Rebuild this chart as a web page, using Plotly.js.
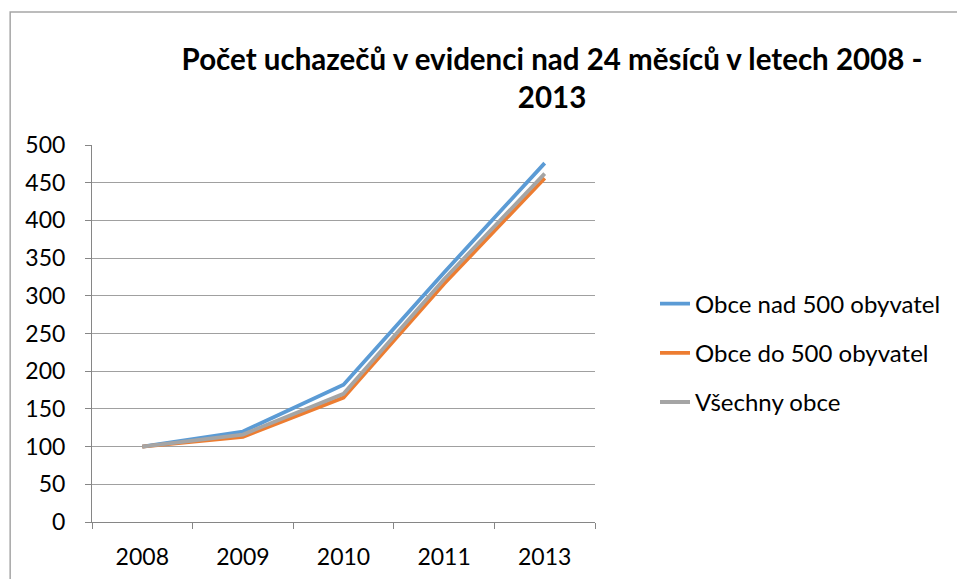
<!DOCTYPE html>
<html>
<head>
<meta charset="utf-8">
<script src="https://cdn.plot.ly/plotly-3.0.1.min.js"></script>
<style>
html,body{margin:0;padding:0;background:#fff;}
#chart{width:957px;height:579px;}
</style>
</head>
<body>
<div id="chart"></div>
<script>
var years = ["2008", "2009", "2010", "2011", "2013"];
var obceNad500 = [100, 120, 182, 331, 476];
var obceDo500 = [100, 113, 165, 316, 456];
var vsechnyObce = [100, 116, 170, 322, 462];
var seriesNames = ["Obce nad 500 obyvatel", "Obce do 500 obyvatel", "Všechny obce"];
var chartTitle = "Počet uchazečů v evidenci nad 24 měsíců v letech 2008 -<br>2013";

var colors = ["#5B9BD5", "#ED7D31", "#A5A5A5"];
var values = [obceNad500, obceDo500, vsechnyObce];
var FONT = "Lato, 'Open Sans', sans-serif";

var traces = values.map(function (v, i) {
  return {
    type: "scatter",
    mode: "lines",
    x: years,
    y: v,
    name: seriesNames[i],
    legendgroup: "g" + i,
    line: {color: colors[i], width: 3.8}
  };
});

var L = 92, R = 596, T = 145, B = 522, W = 957, H = 579;
var pw = R - L, ph = B - T;
function px(x) { return (x - L) / pw; }
function py(y) { return (B - y) / ph; }

var layout = {
  width: W, height: H,
  margin: {l: L, r: W - R, t: T, b: H - B, pad: 0},
  paper_bgcolor: "#fff",
  plot_bgcolor: "#fff",
  font: {family: FONT, size: 23, color: "#000"},
  title: {
    text: "<b>" + chartTitle + "</b>",
    font: {family: FONT, size: 29.5, color: "#000"},
    x: px(553), xref: "paper", xanchor: "center",
    y: 1 - 70 / H, yanchor: "top"
  },
  showlegend: true,
  legend: {
    x: px(655), xanchor: "left",
    y: py(353), yanchor: "middle",
    traceorder: "grouped",
    tracegroupgap: 15,
    font: {family: FONT, size: 24, color: "#000"},
    bgcolor: "rgba(0,0,0,0)"
  },
  xaxis: {
    type: "category",
    range: [-0.5, 4.5],
    showgrid: false,
    showline: true, linecolor: "#868686", linewidth: 1,
    ticks: "outside", ticklen: 6, tickcolor: "#868686",
    tickson: "boundaries",
    tickfont: {family: FONT, size: 23, color: "#000"},
    ticklabelstandoff: 14,
    fixedrange: true
  },
  yaxis: {
    range: [0, 500], dtick: 50, tick0: 0,
    showgrid: true, gridcolor: "#A0A0A0", gridwidth: 1,
    zeroline: false,
    showline: true, linecolor: "#868686", linewidth: 1,
    ticks: "outside", ticklen: 6, tickcolor: "#868686",
    tickfont: {family: FONT, size: 23, color: "#000"},
    ticklabelstandoff: 15,
    fixedrange: true
  },
  shapes: [{
    type: "rect", xref: "paper", yref: "paper",
    x0: px(10), x1: px(W + 20), y0: py(H + 20), y1: py(12),
    line: {color: "#A6A6A6", width: 1.5},
    fillcolor: "rgba(0,0,0,0)", layer: "below"
  }]
};

Plotly.newPlot("chart", traces, layout, {displayModeBar: false, staticPlot: true});
</script>
</body>
</html>
